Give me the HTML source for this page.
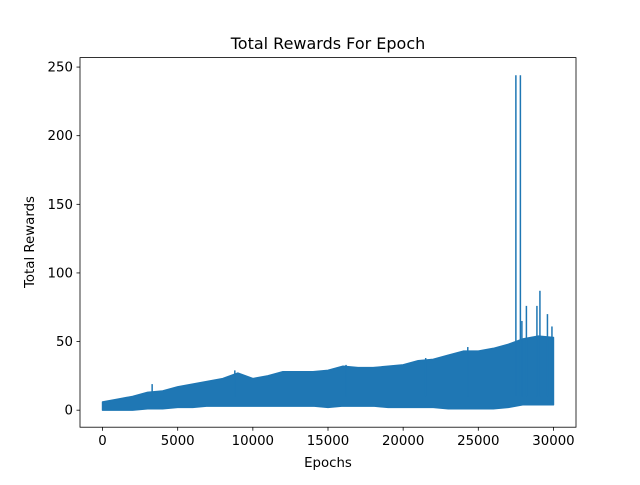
<!DOCTYPE html>
<html><head><meta charset="utf-8"><style>
body{margin:0;background:#fff;}
svg{font-family:"DejaVu Sans","Liberation Sans",sans-serif;}
</style></head><body>
<svg width="640" height="480" viewBox="0 0 640 480">
<rect width="640" height="480" fill="#fff"/>
<g id="plot"></g>
<rect x="80" y="57.6" width="496" height="369.6" fill="none" stroke="#000" stroke-width="0.8"/>
<g id="axes"></g>
<text x="328" y="49" text-anchor="middle" font-size="16">Total Rewards For Epoch</text>
<text x="328" y="467" text-anchor="middle" font-size="13.33">Epochs</text>
<text x="34" y="242" text-anchor="middle" font-size="13.33" transform="rotate(-90 34 242)">Total Rewards</text>
</svg>
<script>
const epochs = [0,1000,2000,3000,4000,5000,6000,7000,8000,9000,10000,11000,12000,13000,14000,15000,16000,17000,18000,19000,20000,21000,22000,23000,24000,25000,26000,27000,28000,29000,30000];
const maxRewards = [6,8,10,13,14,17,19,21,23,27,23,25,28,28,28,29,32,31,31,32,33,36,37,40,43,43,45,48,52,54,53];
const minRewards = [0,0,0,1,1,2,2,3,3,3,3,3,3,3,3,2,3,3,3,2,2,2,2,1,1,1,1,2,4,4,4];
const spikeEpochs = [3300,8800,16200,21500,24300,27500,27800,27900,28200,28900,29100,29600,29900];
const spikeValues = [19,29,33,38,46,244,244,65,76,76,87,70,61];
const xTicks = [0,5000,10000,15000,20000,25000,30000];
const yTicks = [0,50,100,150,200,250];

const NS="http://www.w3.org/2000/svg";
const X0=80,X1=576,Y0=427.2,Y1=57.6;
const xmin=-1500,xmax=31500,ymin=-12.4,ymax=256.9;
const sx=v=>X0+(v-xmin)/(xmax-xmin)*(X1-X0);
const sy=v=>Y0-(v-ymin)/(ymax-ymin)*(Y0-Y1);
const plot=document.getElementById('plot');
const axes=document.getElementById('axes');
function mk(tag,attrs,parent){const e=document.createElementNS(NS,tag);for(const k in attrs)e.setAttribute(k,attrs[k]);parent.appendChild(e);return e;}

let pts=[];
epochs.forEach((e,i)=>pts.push(sx(e)+','+sy(maxRewards[i])));
for(let i=epochs.length-1;i>=0;i--)pts.push(sx(epochs[i])+','+sy(minRewards[i]));
const band=mk('polygon',{points:pts.join(' '),fill:'#1f77b4',stroke:'#1f77b4','stroke-width':1.5,'stroke-linejoin':'round'},plot);



spikeEpochs.forEach((e,i)=>{
  const l=mk('line',{x1:sx(e),x2:sx(e),y1:sy(spikeValues[i]),y2:sy(10),stroke:'#1f77b4','stroke-width':1.5},plot);
  
  
});

xTicks.forEach(t=>{
  const x=sx(t);
  const tk=mk('line',{x1:x,x2:x,y1:Y0,y2:Y0+3.5,stroke:'#000','stroke-width':0.8},axes);
  
  
  const tx=mk('text',{x:x,y:Y0+18,'text-anchor':'middle','font-size':13.33},axes);
  tx.textContent=t;
  
  
});
yTicks.forEach(t=>{
  const y=sy(t);
  const tk=mk('line',{x1:X0-3.5,x2:X0,y1:y,y2:y,stroke:'#000','stroke-width':0.8},axes);
  
  
  const tx=mk('text',{x:X0-7,y:y+4.5,'text-anchor':'end','font-size':13.33},axes);
  tx.textContent=t;
  
  
});
</script>
</body></html>
